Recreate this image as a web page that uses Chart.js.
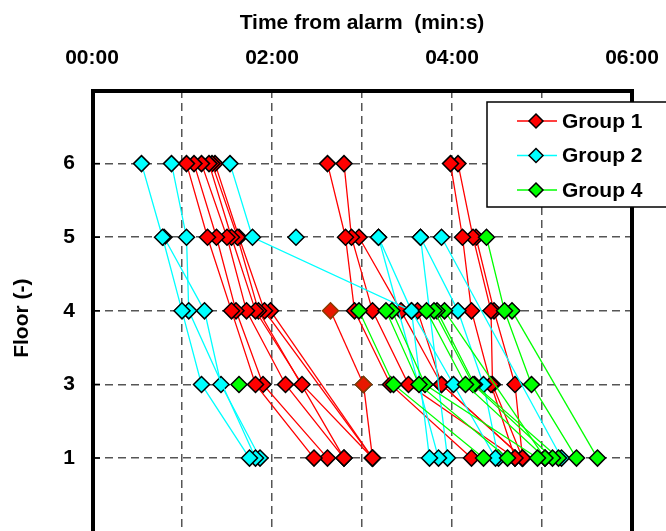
<!DOCTYPE html>
<html>
<head>
<meta charset="utf-8">
<script src="https://cdn.jsdelivr.net/npm/chart.js@4"></script>
<style>
  html, body { margin: 0; padding: 0; background: #fff; overflow: hidden; }
  #wrap { width: 666px; height: 531px; overflow: hidden; position: relative; }
  canvas { display: block; }
</style>
</head>
<body>
<div id="wrap"><canvas id="c" width="700" height="576" style="width:700px;height:576px"></canvas></div>
<script>
// ---- data (times in seconds from alarm) ----
const floorLabels = ['6', '5', '4', '3', '1'];   // floors recorded
const floorPos    = [6, 5, 4, 3, 2];              // axis positions for those floors
const xTickLabels = ['00:00', '', '02:00', '', '04:00', '', '06:00'];
const groupNames  = ['Group 1', 'Group 2', 'Group 4'];

// each row = one person: times at floors [6, 5, 4, 3, 1]
const group1 = [
  [63, 77, 93, 109, 148],
  [68, 83, 96, 114, 157],
  [73, 90, 103, 129, 168],
  [78, 93, 109, 140, 187],
  [80, 97, 111, null, 168],
  [82, 98, 115, null, 187],
  [null, null, 119, null, 187],
  [null, null, null, 181, 187],
  [157, 169, 175, 199, 253],
  [168, 173, 187, 211, 282],
  [null, 178, 206, 233, 287],
  [null, null, 217, 233, 287],
  [239, 247, 253, 266, 282],
  [244, 254, 266, 267, 287],
  [null, 256, 268, 282, 287]
];
const group1Dark = [
  [null, null, 159, 181, null]
];
const group2 = [
  [33, 47, 60, 73, 105],
  [53, 63, 64.5, null, 109],
  [null, 48, 75, 86, 112],
  [92, 107, 213, null, 225],
  [null, 136, null, null, null],
  [null, 191, 213, 241, 269],
  [null, 219, 244, 261, 271],
  [null, 233, null, null, 313],
  [null, 191, null, null, 231],
  [null, 219, null, null, 237]
];
const group4 = [
  [null, null, 178, 201, 261],
  [null, null, 196, 218, 277],
  [null, null, 200, 222, 297],
  [null, null, 223, 249, 302],
  [null, null, 228, 254, 307],
  [null, null, 230, 255, 311],
  [null, null, 235, null, 302],
  [null, 263, 275, 293, 323],
  [null, null, 280, null, 337],
  [null, null, null, 98, null]
];

const colRed = '#FF0000', colCyan = '#00FFFF', colGreen = '#00FF00';
const groupColors = [colRed, colCyan, colGreen];

function toPoints(row) {
  const pts = [];
  row.forEach((t, i) => { if (t !== null) pts.push({ x: t, y: floorPos[i] }); });
  return pts;
}
function makeSets(rows, color, group, fill, border) {
  return rows.map(r => ({
    label: group,
    data: toPoints(r),
    borderColor: color,
    backgroundColor: fill || color,
    borderWidth: 1.3,
    pointStyle: 'rectRot',
    pointRadius: 8,
    pointHoverRadius: 8,
    pointBackgroundColor: fill || color,
    pointBorderColor: border || '#000',
    pointBorderWidth: 1.5,
    tension: 0,
    fill: false
  }));
}
// first datasets are drawn on top in Chart.js
const datasets = [].concat(
  makeSets(group4, colGreen, groupNames[2]),
  makeSets(group2, colCyan, groupNames[1]),
  makeSets(group1Dark, colRed, groupNames[0], '#E81800', '#8A3A00'),
  makeSets(group1, colRed, groupNames[0])
);

const frameAndLegend = {
  id: 'frameAndLegend',
  beforeDatasetsDraw(chart) {
    const ctx = chart.ctx, a = chart.chartArea;
    ctx.save();
    ctx.strokeStyle = '#000';
    ctx.lineWidth = 1.5;
    const ys = chart.scales.y;
    ys.ticks.forEach(tk => {
      const py = ys.getPixelForValue(tk.value);
      ctx.beginPath(); ctx.moveTo(a.left, py); ctx.lineTo(a.left + 8, py); ctx.stroke();
    });
    ctx.lineWidth = 4;
    ctx.strokeRect(a.left + 1, a.top + 1, a.right - a.left - 1, a.bottom - a.top);
    ctx.restore();
  },
  afterDraw(chart) {
    const ctx = chart.ctx;
    ctx.save();
    const bx = 487, by = 102, bw = 220, bh = 105;
    ctx.fillStyle = '#fff';
    ctx.fillRect(bx, by, bw, bh);
    ctx.strokeStyle = '#000';
    ctx.lineWidth = 1.5;
    ctx.strokeRect(bx, by, bw, bh);
    ctx.font = 'bold 21px "Liberation Sans", Arial, sans-serif';
    ctx.textBaseline = 'middle';
    ctx.textAlign = 'left';
    groupNames.forEach((name, i) => {
      const y = 121 + i * 34.5;
      ctx.strokeStyle = groupColors[i];
      ctx.lineWidth = 1.3;
      ctx.beginPath(); ctx.moveTo(517, y); ctx.lineTo(557, y); ctx.stroke();
      const r = 7, cx = 536;
      ctx.beginPath();
      ctx.moveTo(cx, y - r); ctx.lineTo(cx + r, y); ctx.lineTo(cx, y + r); ctx.lineTo(cx - r, y); ctx.closePath();
      ctx.fillStyle = groupColors[i]; ctx.fill();
      ctx.strokeStyle = '#000'; ctx.lineWidth = 1.5; ctx.stroke();
      ctx.fillStyle = '#000';
      ctx.fillText(name, 562, y + 1);
    });
    ctx.restore();
  }
};

const boldFont = { family: '"Liberation Sans", Arial, sans-serif', size: 21, weight: 'bold' };

new Chart(document.getElementById('c'), {
  type: 'line',
  data: { datasets },
  options: {
    responsive: false,
    animation: false,
    devicePixelRatio: 1,
    layout: { padding: { left: 0, top: 0, right: 68, bottom: 0 } },
    plugins: { legend: { display: false }, tooltip: { enabled: false } },
    scales: {
      x: {
        type: 'linear',
        position: 'top',
        min: 0, max: 360,
        afterFit(s) { s.height = 90; },
        ticks: {
          stepSize: 60, autoSkip: false, maxRotation: 0,
          padding: 19, color: '#000', font: boldFont,
          callback: v => xTickLabels[Math.round(v / 60)]
        },
        grid: { color: '#555', lineWidth: 1.5, drawTicks: false },
        border: { display: false, dash: [8, 5] },
        title: {
          display: true, text: 'Time from alarm  (min:s)', color: '#000',
          font: boldFont, padding: { top: 11, bottom: 0 }
        }
      },
      y: {
        type: 'linear',
        min: 0.8, max: 7,
        afterFit(s) { s.width = 92; },
        afterBuildTicks(s) { s.ticks = floorPos.map(v => ({ value: v })); },
        ticks: {
          padding: 17, color: '#000', font: boldFont,
          callback: v => floorLabels[floorPos.indexOf(v)]
        },
        grid: { color: '#555', lineWidth: 1.5, drawTicks: false },
        border: { display: false, dash: [8, 5] },
        title: {
          display: true, text: 'Floor (-)', color: '#000',
          font: boldFont, padding: { top: 10, bottom: 0 }
        }
      }
    }
  },
  plugins: [frameAndLegend]
});
</script>
</body>
</html>
